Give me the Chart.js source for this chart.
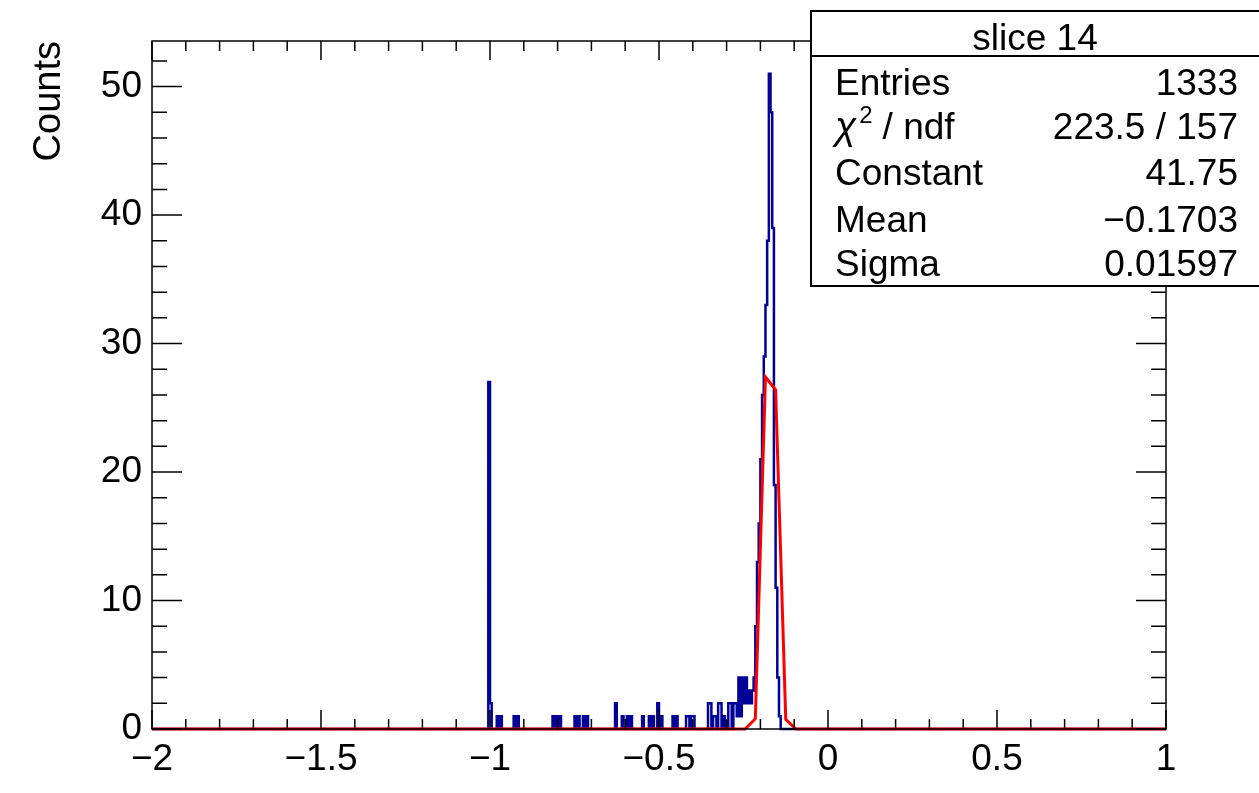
<!DOCTYPE html>
<html>
<head>
<meta charset="utf-8">
<script src="https://cdn.jsdelivr.net/npm/chart.js@4.4.1/dist/chart.umd.min.js"></script>
<style>
  body { margin: 0; background: #fff; }
  #wrap { width: 1259px; height: 793px; }
</style>
</head>
<body>
<div id="wrap"><canvas id="myChart" width="1259" height="793"></canvas></div>
<script>
// slice 14 histogram, 0.005 wide bins from -2 to 1
const xMin = -2;
const xMax = 1;
const binWidth = 0.005;
const yMax = 53.55;

// low edge of every non-empty bin, and its count
const binLow = [
    -1.000, -0.995, -0.975, -0.965, -0.925, -0.915, -0.810, -0.800, -0.790,
    -0.745, -0.735, -0.720, -0.710, -0.625, -0.605, -0.590, -0.580, -0.545,
    -0.525, -0.515, -0.500, -0.490, -0.455, -0.445, -0.415, -0.410, -0.400,
    -0.395, -0.350, -0.345, -0.335, -0.330, -0.320, -0.315, -0.305, -0.290,
    -0.285, -0.275, -0.270, -0.265, -0.260, -0.255, -0.250, -0.245, -0.240,
    -0.235, -0.230, -0.225, -0.220, -0.215, -0.210, -0.205, -0.200, -0.195,
    -0.190, -0.185, -0.180, -0.175, -0.170, -0.165, -0.160, -0.155, -0.150,
    -0.145, -0.140
];
const binCounts = [
    27, 2, 1, 1, 1, 1, 1, 1, 1,
    1, 1, 1, 1, 2, 1, 1, 1, 1,
    1, 1, 2, 1, 1, 1, 1, 1, 1,
    1, 2, 2, 1, 1, 2, 2, 1, 2,
    2, 2, 2, 1, 4, 1, 4, 2, 4,
    2, 3, 2, 3, 4, 8, 13, 16, 21,
    26, 29, 33, 38, 51, 48, 39, 19, 11,
    4, 1
];

// gaussian fit as ROOT drew it (polyline vertices)
const fitX = [-2, -0.245, -0.215, -0.185, -0.155, -0.125, -0.095, 1];
const fitY = [0, 0, 0.8, 27.4, 26.4, 0.75, 0, 0];

// stats box
const statTitle = 'slice 14';
const statNames = ['Entries', 'chi2', 'Constant', 'Mean', 'Sigma'];
const statValues = ['1333', '223.5 / 157', '41.75', '\u22120.1703', '0.01597'];

const fontFamily = "'Liberation Sans', Arial, Helvetica, sans-serif";
const fontSize = 37;

// fill the full bin list
const nBins = Math.round((xMax - xMin) / binWidth);
const counts = new Array(nBins).fill(0);
binLow.forEach(function (lo, i) {
    counts[Math.round((lo - xMin) / binWidth)] = binCounts[i];
});
const histPoints = [];
for (let i = 0; i < nBins; i++) {
    histPoints.push({ x: xMin + i * binWidth, y: counts[i] });
}
histPoints.push({ x: xMax, y: 0 });

const fitPoints = fitX.map(function (v, i) { return { x: v, y: fitY[i] }; });

const minus = function (v) { return String(v).replace('-', '\u2212'); };

// frame with inward ticks on all four sides, then the stats box
const rootFrame = {
    id: 'rootFrame',
    afterDatasetsDraw(chart) {
        const ctx = chart.ctx;
        const a = chart.chartArea;
        const xs = chart.scales.x;
        const ys = chart.scales.y;
        ctx.save();
        ctx.strokeStyle = '#000';
        ctx.lineWidth = 1.5;
        ctx.strokeRect(a.left, a.top, a.right - a.left, a.bottom - a.top);
        ctx.beginPath();
        for (let k = 0; k <= 30; k++) {
            const px = xs.getPixelForValue(xMin + k * 0.1);
            const len = k % 5 === 0 ? 19 : 10;
            ctx.moveTo(px, a.bottom);
            ctx.lineTo(px, a.bottom - len);
            ctx.moveTo(px, a.top);
            ctx.lineTo(px, a.top + len);
        }
        for (let k = 0; k <= 26; k++) {
            const py = ys.getPixelForValue(k * 2);
            const len = k % 5 === 0 ? 30 : 15;
            ctx.moveTo(a.left, py);
            ctx.lineTo(a.left + len, py);
            ctx.moveTo(a.right, py);
            ctx.lineTo(a.right - len, py);
        }
        ctx.stroke();
        ctx.restore();
    },
    afterDraw(chart) {
        const ctx = chart.ctx;
        const bx = 811, by = 11, bw = 460, bh = 275, headY = 56;
        ctx.save();
        ctx.fillStyle = '#fff';
        ctx.fillRect(bx, by, bw, bh);
        ctx.strokeStyle = '#000';
        ctx.lineWidth = 2;
        ctx.strokeRect(bx, by, bw, bh);
        ctx.beginPath();
        ctx.moveTo(bx, headY);
        ctx.lineTo(bx + bw, headY);
        ctx.stroke();

        ctx.fillStyle = '#000';
        ctx.font = fontSize + 'px ' + fontFamily;
        ctx.textBaseline = 'alphabetic';
        ctx.textAlign = 'center';
        ctx.fillText(statTitle, 1035, 50);

        const baselines = [95, 139, 185, 232, 276];
        statNames.forEach(function (name, i) {
            const yb = baselines[i];
            ctx.textAlign = 'left';
            if (name === 'chi2') {
                ctx.font = 'italic ' + (fontSize + 2) + 'px ' + fontFamily;
                ctx.fillText('\u03c7', 835, yb);
                const w = ctx.measureText('\u03c7').width;
                ctx.font = '24px ' + fontFamily;
                ctx.fillText('2', 835 + w + 3, yb - 16);
                ctx.font = fontSize + 'px ' + fontFamily;
                ctx.fillText(' / ndf', 835 + w + 16, yb);
            } else {
                ctx.fillText(name, 835, yb);
            }
            ctx.textAlign = 'right';
            ctx.fillText(statValues[i], 1238, yb);
        });
        ctx.restore();
    }
};

const ctx = document.getElementById('myChart');

const myChart = new Chart(ctx, {
    type: 'scatter',
    data: {
        datasets: [{
            label: 'fit',
            data: fitPoints,
            showLine: true,
            borderColor: 'rgb(255, 0, 0)',
            borderWidth: 3,
            pointRadius: 0,
            clip: 6
        }, {
            label: 'slice 14',
            data: histPoints,
            showLine: true,
            stepped: 'after',
            borderColor: 'rgb(0, 0, 153)',
            borderWidth: 2.5,
            pointRadius: 0,
            clip: 6
        }]
    },
    options: {
        responsive: false,
        animation: false,
        devicePixelRatio: 1,
        layout: { padding: { top: 41, right: 93, left: 0, bottom: 0 } },
        plugins: {
            legend: { display: false },
            tooltip: { enabled: false }
        },
        scales: {
            x: {
                type: 'linear',
                min: xMin,
                max: xMax,
                afterFit: function (s) { s.height = 64; },
                grid: { display: false, drawTicks: false },
                border: { display: false },
                ticks: {
                    stepSize: 0.5,
                    autoSkip: false,
                    maxRotation: 0,
                    padding: 9,
                    color: '#000',
                    font: { family: fontFamily, size: fontSize },
                    callback: minus
                }
            },
            y: {
                min: 0,
                max: yMax,
                afterFit: function (s) { s.width = 152; },
                grid: { display: false, drawTicks: false },
                border: { display: false },
                ticks: {
                    stepSize: 10,
                    includeBounds: false,
                    padding: 10,
                    color: '#000',
                    font: { family: fontFamily, size: fontSize },
                    callback: function (v) { return v % 10 === 0 ? v : ''; }
                },
                title: {
                    display: true,
                    text: 'Counts',
                    align: 'end',
                    color: '#000',
                    padding: { top: 27 },
                    font: { family: fontFamily, size: 38 }
                }
            }
        }
    },
    plugins: [rootFrame]
});
</script>
</body>
</html>
